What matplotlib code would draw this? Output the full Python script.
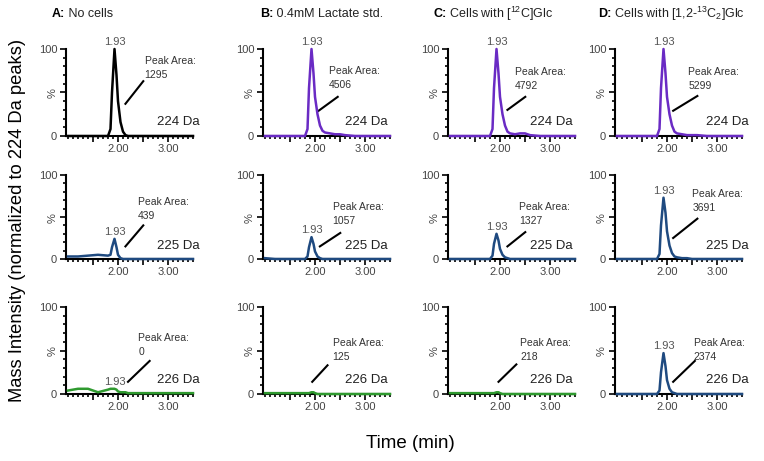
import matplotlib.pyplot as plt
from matplotlib.ticker import MultipleLocator, FixedLocator

plt.rcParams['font.family'] = ['Liberation Sans', 'DejaVu Sans']
plt.rcParams['mathtext.default'] = 'regular'

# retention time points (min)
t = [1.0, 1.2, 1.4, 1.6, 1.8, 1.85, 1.88, 1.93, 1.97, 2.0, 2.05, 2.1,
     2.15, 2.2, 2.3, 2.4, 2.5, 2.6, 2.8, 3.0, 3.2, 3.5]

# intensity (%) per panel, rows = mass, cols = sample
a224 = [0, 0, 0, 0, 0, 8, 50, 100, 70, 40, 16, 5, 1, 0, 0, 0, 0, 0, 0, 0, 0, 0]
b224 = [0, 0, 0, 0, 0, 8, 55, 100, 72, 45, 25, 12, 6, 4, 3, 2, 2, 1, 0, 0, 0, 0]
c224 = [0, 0, 0, 0, 0, 8, 55, 100, 72, 45, 25, 12, 5, 3, 2, 3, 3, 1, 0, 0, 0, 0]
d224 = [0, 0, 0, 0, 0, 8, 55, 100, 72, 45, 25, 12, 5, 3, 2, 1, 1, 1, 0, 0, 0, 0]
a225 = [3, 3, 4, 5, 4, 5, 14, 24, 14, 5, 1, 0, 0, 0, 0, 0, 0, 0, 0, 0, 0, 0]
b225 = [1, 0, 0, 0, 0, 3, 14, 26, 18, 9, 3, 1, 0, 0, 0, 0, 0, 0, 0, 0, 0, 0]
c225 = [0, 0, 0, 0, 0, 4, 18, 30, 22, 12, 5, 2, 1, 0, 0, 0, 0, 0, 0, 0, 0, 0]
d225 = [0, 0, 0, 0, 0, 6, 40, 73, 55, 33, 16, 7, 3, 2, 1, 1, 0, 0, 0, 0, 0, 0]
a226 = [4, 6, 6, 2, 5, 6, 6, 6, 5, 3, 2, 2, 2, 1, 1, 1, 1, 1, 1, 1, 1, 1]
b226 = [1, 1, 1, 1, 1, 1, 1, 2, 2, 1, 0, 0, 0, 0, 0, 0, 0, 0, 0, 0, 0, 0]
c226 = [1, 1, 1, 1, 1, 1, 1, 2, 2, 1, 0, 0, 0, 0, 0, 0, 0, 0, 0, 0, 0, 0]
d226 = [0, 0, 0, 0, 0, 4, 25, 47, 32, 16, 6, 2, 1, 0, 0, 0, 0, 0, 0, 0, 0, 0]
traces = [[a224, b224, c224, d224],
          [a225, b225, c225, d225],
          [a226, b226, c226, d226]]

peak_areas = [[1295, 4506, 4792, 5299],
              [439, 1057, 1327, 3691],
              [0, 125, 218, 2374]]
show_rt = [[True, True, True, True],
           [True, True, True, True],
           [True, False, False, True]]
masses = ['224 Da', '225 Da', '226 Da']
title_bold = ['A:', 'B:', 'C:', 'D:']
title_rest = [' No cells', ' 0.4mM Lactate std.', ' Cells with [$^{12}$C]Glc',
              ' Cells with [1,2-$^{13}$C$_2$]Glc']

purple = '#6a2bc4'
navy = '#1f4a80'
green = '#2f9a2f'
colors = [['black', purple, purple, purple],
          [navy, navy, navy, navy],
          [green, green, green, navy]]

# layout in pixels
W, H = 764, 461
col_left = [65.5, 262.5, 447.5, 614.5]
ax_w = 127.5
row_box = [(49, 136), (175, 259), (307, 394)]
# "Peak Area" label (axes fraction) and pointer line
lab_pos = [[(0.62, 0.92), (0.52, 0.80), (0.53, 0.79), (0.58, 0.79)],
           [(0.57, 0.74), (0.55, 0.68), (0.56, 0.68), (0.61, 0.83)],
           [(0.57, 0.70), (0.55, 0.64), (0.57, 0.64), (0.62, 0.64)]]
ptr = [[(0.47, 0.37, 0.61, 0.63), (0.44, 0.29, 0.59, 0.45), (0.47, 0.30, 0.61, 0.45), (0.46, 0.29, 0.65, 0.46)],
       [(0.47, 0.15, 0.61, 0.40), (0.45, 0.15, 0.61, 0.31), (0.47, 0.15, 0.61, 0.32), (0.46, 0.25, 0.65, 0.48)],
       [(0.49, 0.14, 0.66, 0.38), (0.39, 0.14, 0.51, 0.33), (0.40, 0.14, 0.54, 0.34), (0.46, 0.14, 0.63, 0.38)]]
mass_x = [1.05, 0.98, 0.98, 1.05]

fig = plt.figure(figsize=(W / 100, H / 100), dpi=100)

for r in range(3):
    top, bot = row_box[r]
    for c in range(4):
        ax = fig.add_axes([col_left[c] / W, 1 - bot / H, ax_w / W, (bot - top) / H])
        y = traces[r][c]
        ax.plot(t, y, color=colors[r][c], lw=1.8, clip_on=False, zorder=5)
        ax.set_xlim(0.95, 3.5)
        ax.set_ylim(0, 100)
        for s in ['top', 'right']:
            ax.spines[s].set_visible(False)
        for s in ['left', 'bottom']:
            ax.spines[s].set_linewidth(1.5)
        ax.xaxis.set_major_locator(FixedLocator([1.5, 2.0, 2.5, 3.0]))
        ax.xaxis.set_minor_locator(MultipleLocator(0.1))
        ax.set_xticklabels(['', '2.00', '', '3.00'])
        ax.set_yticks([0, 50, 100])
        ax.set_yticklabels(['0', '%', '100'])
        ax.get_yticklabels()[1].set_rotation(90)
        ax.yaxis.set_minor_locator(MultipleLocator(10))
        ax.tick_params(which='major', length=4, width=1.2, labelsize=8,
                       labelcolor='#444444', pad=2)
        ax.tick_params(which='minor', length=2.5, width=1.2)
        ax.patch.set_alpha(0)

        if show_rt[r][c]:
            pk = max(y)
            ax.text(1.93, pk + 2, '1.93', ha='center', va='bottom',
                    fontsize=8, color='#555555')
        lx, ly = lab_pos[r][c]
        ax.text(lx, ly, 'Peak Area:\n%d' % peak_areas[r][c], transform=ax.transAxes,
                ha='left', va='top', fontsize=7.5, color='#333333', linespacing=1.5)
        x1, y1, x2, y2 = ptr[r][c]
        ax.plot([x1, x2], [y1, y2], color='black', lw=1.5, transform=ax.transAxes,
                clip_on=False)
        ax.text(mass_x[c], 0.16, masses[r], transform=ax.transAxes, ha='right',
                va='center', fontsize=9.5, color='#222222')

title_x = [52, 260, 433, 598]
ax0 = fig.axes[0]
for c in range(4):
    tb = fig.text(title_x[c] / W, 1 - 14 / H, title_bold[c], fontsize=9,
                  fontweight='bold', va='center', ha='left')
    ax0.annotate(title_rest[c], xy=(1, 0.5), xycoords=tb, va='center', ha='left',
                 fontsize=9, color='#222222', annotation_clip=False)

fig.text(18 / W, 1 - 220 / H, 'Mass Intensity (normalized to 224 Da peaks)',
         rotation=90, ha='center', va='center', fontsize=13.2)
fig.text(410 / W, 1 - 443 / H, 'Time (min)', ha='center', va='center', fontsize=13.5)

fig.savefig('out.png', dpi=100)
